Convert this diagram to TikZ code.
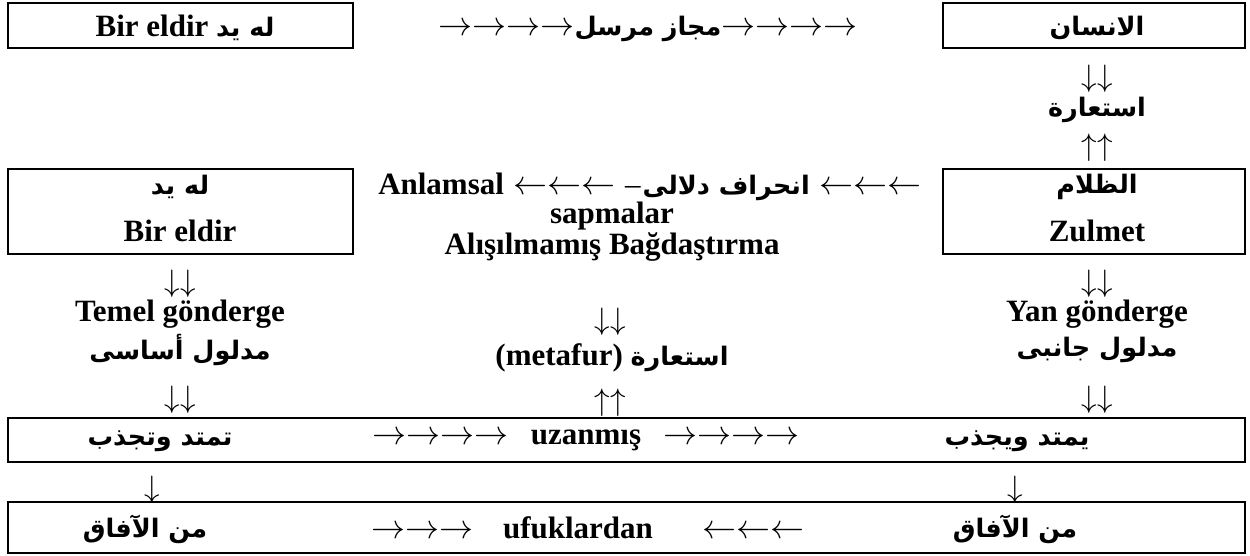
\RequirePackage{fix-cm}
\documentclass[tikz,border=0pt]{standalone}
\usepackage{fontspec}
\setmainfont{Liberation Serif}
\newfontfamily\arabicfont[Script=Arabic]{DejaVu Sans}
\TeXXeTstate=1
\newcommand\latf{\fontsize{31}{37}\selectfont\bfseries}
\newcommand\arabf{\arabicfont\bfseries\fontsize{25.5}{30}\selectfont}
\newcommand\AR[1]{{\arabf\beginR #1\endR}}
\newcommand\HA[1]{{\fontsize{34}{40}\selectfont$#1$}}
\newcommand\VA[1]{{\fontsize{31}{37}\selectfont$#1$}}
\tikzset{
  box/.style={draw, line width=2.2pt, inner sep=0pt},
  txt/.style={font=\latf, inner sep=0pt, anchor=center},
}
\begin{document}
\begin{tikzpicture}[x=1pt,y=-1pt]
\useasboundingbox (0,0) rectangle (1250,555);
% boxes
\node[box, minimum width=345, minimum height=45] (b1) at (180.5,25.5) {};
\node[box, minimum width=302, minimum height=45] (b2) at (1094,25.5) {};
\node[box, minimum width=345, minimum height=85] (b3) at (180.5,211.5) {};
\node[box, minimum width=302, minimum height=85] (b4) at (1094,211.5) {};
\node[box, minimum width=1237, minimum height=44] (b5) at (626.5,440) {};
\node[box, minimum width=1237, minimum height=51] (b6) at (626.5,527.5) {};
% top row
\node[txt] (t1) at (185,28) {Bir eldir \AR{له يد}};
\node[txt] (t2) at (648,29) {\HA{\rightarrow\rightarrow\rightarrow\rightarrow}\AR{مجاز مرسل}\HA{\rightarrow\rightarrow\rightarrow\rightarrow}};
\node[txt] (t3) at (1097,28) {\AR{الانسان}};
% right upper column
\node[txt] (a1) at (1097,79) {\VA{\downarrow\downarrow}};
\node[txt] (t4) at (1097,110) {\AR{استعارة}};
\node[txt] (a2) at (1097,148) {\VA{\uparrow\uparrow}};
% middle boxes
\node[txt] (t5) at (180,187) {\AR{له يد}};
\node[txt] (t6) at (180,231) {Bir eldir};
\node[txt] (t7) at (1097,187) {\AR{الظلام}};
\node[txt] (t8) at (1097,231) {Zulmet};
% middle column
\node[txt] (t9) at (650,187) {Anlamsal\hspace{9pt}\HA{\leftarrow\leftarrow\leftarrow}\hspace{10pt}{\mdseries –}\hspace{2pt}\AR{انحراف دلالى}\hspace{10pt}\HA{\leftarrow\leftarrow\leftarrow}};
\node[txt] (t10) at (612,216) {sapmalar};
\node[txt] (t11) at (612,247) {Alışılmamış Bağdaştırma};
\node[txt] (a3) at (610,322) {\VA{\downarrow\downarrow}};
\node[txt] (t12) at (612,358) {(metafur) \AR{استعارة}};
\node[txt] (a4) at (610,403) {\VA{\uparrow\uparrow}};
% left column
\node[txt] (a5) at (180,284) {\VA{\downarrow\downarrow}};
\node[txt] (t13) at (180,314) {Temel gönderge};
\node[txt] (t14) at (180,350) {\AR{مدلول أساسى}};
\node[txt] (a6) at (180,400) {\VA{\downarrow\downarrow}};
% right column
\node[txt] (a7) at (1097,284) {\VA{\downarrow\downarrow}};
\node[txt] (t15) at (1097,314) {Yan gönderge};
\node[txt] (t16) at (1097,350) {\AR{مدلول جانبى}};
\node[txt] (a8) at (1097,400) {\VA{\downarrow\downarrow}};
% uzanmis row
\node[txt] (t17) at (160,441) {\AR{تمتد وتجذب}};
\node[txt] (t18) at (586,440) {\HA{\rightarrow\rightarrow\rightarrow\rightarrow}\hspace{22pt}uzanmış\hspace{22pt}\HA{\rightarrow\rightarrow\rightarrow\rightarrow}};
\node[txt] (t19) at (1017,441) {\AR{يمتد ويجذب}};
\node[txt] (a9) at (152,490) {\VA{\downarrow}};
\node[txt] (a10) at (1015,490) {\VA{\downarrow}};
% bottom row
\node[txt] (t20) at (145,529) {\AR{من الآفاق}};
\node[txt] (t21) at (588,528) {\HA{\rightarrow\rightarrow\rightarrow}\hspace{30pt}ufuklardan\hspace{50pt}\HA{\leftarrow\leftarrow\leftarrow}};
\node[txt] (t22) at (1015,529) {\AR{من الآفاق}};
\end{tikzpicture}
\end{document}
